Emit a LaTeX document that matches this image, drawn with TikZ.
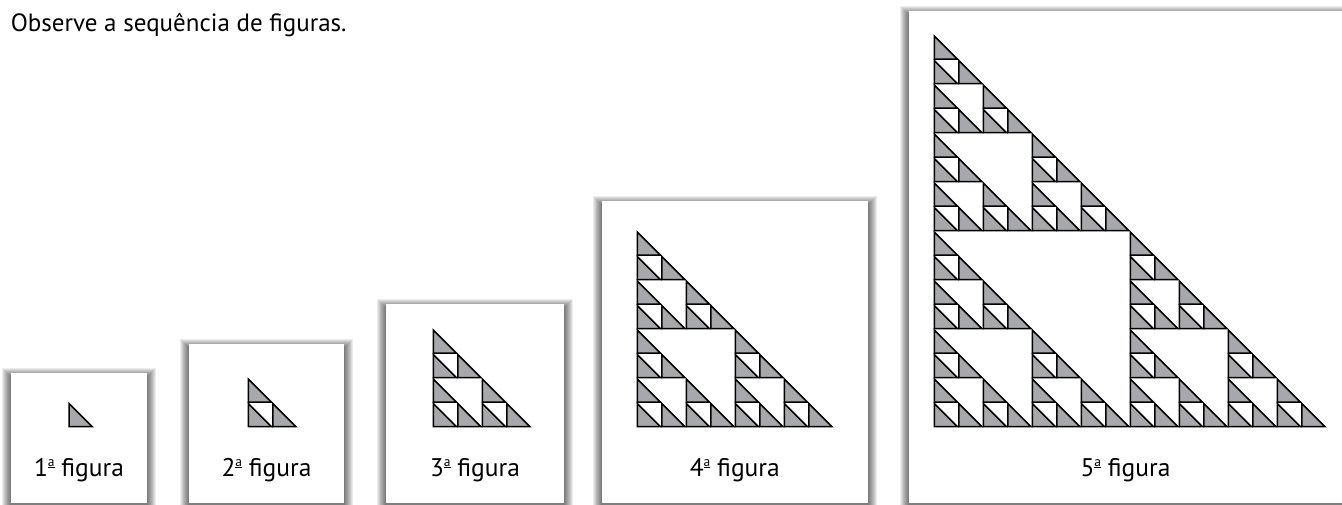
\documentclass[tikz,border=0pt]{standalone}
\usepackage{fontspec}
\setmainfont{PT Sans}
\definecolor{cinza}{HTML}{A7A8AB}
\newcommand{\cel}{24.5}
\newcommand{\lado}{23}
\newcommand{\base}{426.5}
% indicador ordinal sublinhado
\newcommand{\aord}{\raisebox{10.5pt}{\fontsize{13.5}{13.5}\selectfont\underline{a}}}
% caixa com sombra: esquerda, topo, direita
\newcommand{\caixa}[3]{%
  \foreach \k in {1,...,9}
    \fill[black,opacity=0.075] ({#1-\k},{#2-\k+4}) rectangle ({#3+\k},506);
  \fill[white] (#1,#2) rectangle (#3,502.5);
}
% triangulo de Sierpinski: x do canto, celulas por lado
\newcommand{\serie}[2]{%
  \pgfmathtruncatemacro\nmax{#2-1}
  \foreach \col in {0,...,\nmax}{
    \foreach \lin in {0,...,\nmax}{
      \pgfmathtruncatemacro\hit{mod(\col,2)*mod(\lin,2)+mod(floor(\col/2),2)*mod(floor(\lin/2),2)+mod(floor(\col/4),2)*mod(floor(\lin/4),2)+mod(floor(\col/8),2)*mod(floor(\lin/8),2)}
      \ifnum\hit=0
        \draw[tri] ({#1+\col*\cel},{\base-\lin*\cel}) -- ++(\lado,0) -- ++(-\lado,-\lado) -- cycle;
      \fi
    }
  }
}
\begin{document}
\begin{tikzpicture}[x=1pt,y=-1pt,line width=1.5pt,
  tri/.style={fill=cinza,draw=black,line join=miter},
  rotulo/.style={font=\fontsize{25.5}{28}\selectfont,anchor=base}]
  \useasboundingbox[fill=white] (0,0) rectangle (1342,504);

  % enunciado
  \node[anchor=base west,inner sep=0pt,font=\fontsize{25}{28}\selectfont] (titulo) at (10,31.7) {Observe a sequência de figuras.};

  % caixas
  \caixa{11}{372.5}{147}
  \caixa{189}{344}{344}
  \caixa{386}{304}{564}
  \caixa{601.5}{201}{868}
  \caixa{909}{11}{1350}

  % figuras
  \serie{69}{1}
  \serie{248.3}{2}
  \serie{433.3}{4}
  \serie{637.3}{8}
  \serie{934.3}{16}

  % rotulos
  \node[rotulo] (r1) at (79,476.5) {1\aord\ figura};
  \node[rotulo] (r2) at (266.5,476.5) {2\aord\ figura};
  \node[rotulo] (r3) at (475,476.5) {3\aord\ figura};
  \node[rotulo] (r4) at (734.8,476.5) {4\aord\ figura};
  \node[rotulo] (r5) at (1125.5,476.5) {5\aord\ figura};
\end{tikzpicture}
\end{document}
